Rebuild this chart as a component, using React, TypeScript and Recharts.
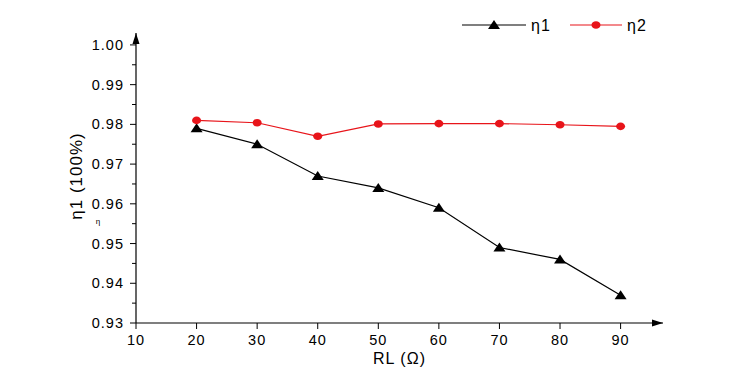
import { LineChart, Line, XAxis, YAxis, ReferenceDot, Label } from "recharts";

const rl = [20, 30, 40, 50, 60, 70, 80, 90];
const eta1 = [0.979, 0.975, 0.967, 0.964, 0.959, 0.949, 0.946, 0.937];
const eta2 = [0.981, 0.9804, 0.977, 0.9801, 0.9802, 0.9802, 0.9799, 0.9795];
const xTicks = [10, 20, 30, 40, 50, 60, 70, 80, 90];
const yMajor = [0.93, 0.94, 0.95, 0.96, 0.97, 0.98, 0.99, 1.0];
const yMinor = [0.935, 0.945, 0.955, 0.965, 0.975, 0.985, 0.995];

const data = rl.map((r, i) => ({ rl: r, eta1: eta1[i], eta2: eta2[i] }));
const yTicks = [...yMajor, ...yMinor].sort((a, b) => a - b);

const font = "'Liberation Sans', Arial, sans-serif";

const Triangle = (props: any) => {
  const { cx, cy } = props;
  if (cx == null || cy == null) return null;
  return <path d={`M${cx},${cy - 5} L${cx + 6},${cy + 4} L${cx - 6},${cy + 4} Z`} fill="#000" />;
};

const RedDot = (props: any) => {
  const { cx, cy } = props;
  if (cx == null || cy == null) return null;
  return <ellipse cx={cx} cy={cy} rx={4.5} ry={3.8} fill="#e8141a" />;
};

const YTick = (props: any) => {
  const { x, y, payload } = props;
  const v = payload.value;
  const major = yMajor.some((m) => Math.abs(m - v) < 1e-6);
  const ax = x + 8;
  return (
    <g>
      <line x1={ax} x2={ax - (major ? 6 : 4)} y1={y} y2={y} stroke="#000" strokeWidth={1} />
      {major && (
        <text x={ax - 12} y={y + 5} textAnchor="end" fontSize={14.5} letterSpacing={1} fontFamily={font} fill="#000">
          {v.toFixed(2)}
        </text>
      )}
    </g>
  );
};

const XTick = (props: any) => {
  const { x, y, payload } = props;
  const ay = y - 8;
  return (
    <g>
      <line x1={x} x2={x} y1={ay} y2={ay + 6} stroke="#000" strokeWidth={1} />
      <text x={x} y={ay + 22} textAnchor="middle" fontSize={14.5} letterSpacing={1} fontFamily={font} fill="#000">
        {payload.value}
      </text>
    </g>
  );
};

const ArrowRight = (props: any) => {
  const { cx, cy } = props;
  return <path d={`M${cx},${cy} L${cx - 11},${cy - 3.5} L${cx - 11},${cy + 3.5} Z`} fill="#000" />;
};

const ArrowUp = (props: any) => {
  const { cx, cy } = props;
  return <path d={`M${cx},${cy} L${cx - 3.5},${cy + 11} L${cx + 3.5},${cy + 11} Z`} fill="#000" />;
};

// legend drawn straight into the svg so it does not push the plot down
const LegendBox = () => (
  <g transform="translate(460, 13)">
    <line x1={2} x2={66} y1={12} y2={12} stroke="#000" strokeWidth={1.2} />
    <path d="M34,7 L40,16 L28,16 Z" fill="#000" />
    <text x={71} y={18} fontSize={16} letterSpacing={1} fontFamily={font} fill="#000">η1</text>
    <line x1={110} x2={162} y1={12} y2={12} stroke="#e8141a" strokeWidth={1.2} />
    <ellipse cx={136} cy={12} rx={4.5} ry={3.8} fill="#e8141a" />
    <text x={167} y={18} fontSize={16} letterSpacing={1} fontFamily={font} fill="#000">η2</text>
  </g>
);

export default function App() {
  return (
    <div style={{ position: "absolute", left: 0, top: 0, background: "#fff" }}>
      <LineChart width={756} height={387} data={data} margin={{ top: 33, right: 93, bottom: 0, left: 128 }}>
        <XAxis
          dataKey="rl"
          type="number"
          domain={[10, 97]}
          ticks={xTicks}
          allowDataOverflow
          axisLine={{ stroke: "#000", strokeWidth: 1.2 }}
          tickLine={false}
          tick={<XTick />}
          height={64}
        >
          <Label value="RL (Ω)" position="insideBottom" offset={23} fontSize={16} letterSpacing={1} fontFamily={font} fill="#000" />
        </XAxis>
        <YAxis
          type="number"
          domain={[0.93, 1.003]}
          ticks={yTicks}
          allowDataOverflow
          axisLine={{ stroke: "#000", strokeWidth: 1.2 }}
          tickLine={false}
          tick={<YTick />}
          width={8}
          interval={0}
        />
        <ReferenceDot x={97} y={0.93} r={0} shape={<ArrowRight />} ifOverflow="visible" />
        <ReferenceDot x={10} y={1.003} r={0} shape={<ArrowUp />} ifOverflow="visible" />
        <Line
          dataKey="eta1"
          stroke="#000"
          strokeWidth={1.2}
          dot={<Triangle />}
          activeDot={false}
          isAnimationActive={false}
        />
        <Line
          dataKey="eta2"
          stroke="#e8141a"
          strokeWidth={1.2}
          dot={<RedDot />}
          activeDot={false}
          isAnimationActive={false}
        />
        <LegendBox />
        <text x={76} y={176} transform="rotate(-90 76 176)" textAnchor="middle" dominantBaseline="central" fontSize={17} letterSpacing={1} fontFamily={font} fill="#000">
          η1 (100%)
        </text>
        <text x={98} y={224} textAnchor="middle" fontSize={8} fontFamily={font} fill="#000">
          η
        </text>
      </LineChart>
    </div>
  );
}
